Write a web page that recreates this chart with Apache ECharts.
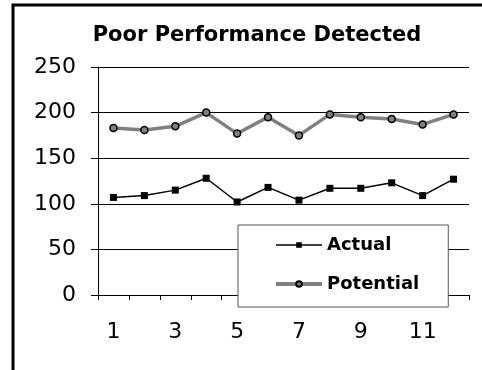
<!DOCTYPE html>
<html><head><meta charset="utf-8">
<script src="https://cdn.jsdelivr.net/npm/echarts@6/dist/echarts.min.js"></script>
<style>html,body{margin:0;padding:0;background:#fff}#c{width:482px;height:370px}</style>
</head><body><div id="c"></div>
<script>
const categories = ['1','2','3','4','5','6','7','8','9','10','11','12'];
const actual = [107, 109, 115, 128, 102, 118, 104, 117, 117, 123, 109, 127];
const potential = [183, 181, 185, 200, 177, 195, 175, 198, 195, 193, 187, 198];
const yTicks = {min: 0, max: 250, interval: 50};
const FONT = 'DejaVu Sans';

const chart = echarts.init(document.getElementById('c'), null, {renderer: 'canvas'});
chart.setOption({
  animation: false,
  backgroundColor: '#fff',
  graphic: [{
    type: 'rect', shape: {x: 13, y: 5, width: 520, height: 420},
    style: {fill: 'none', stroke: '#000', lineWidth: 3}, z: 100, silent: true
  }],
  title: {
    text: 'Poor Performance Detected', left: 252, top: 20, textAlign: 'center',
    textStyle: {fontFamily: FONT, fontWeight: 'bold', fontSize: 21, color: '#000'}
  },
  grid: {left: 98, right: 13, top: 67, bottom: 75, containLabel: false},
  legend: {
    orient: 'vertical', left: 238, top: 225,
    padding: [11, 29, 14, 36], itemGap: 21,
    itemWidth: 46, itemHeight: 7,
    backgroundColor: '#fff', borderColor: '#555', borderWidth: 1, borderRadius: 0,
    textStyle: {fontFamily: FONT, fontWeight: 'bold', fontSize: 18, color: '#000'},
    data: [
      {name: 'Actual', lineStyle: {width: 1.5}},
      {name: 'Potential', lineStyle: {width: 4}}
    ]
  },
  xAxis: {
    type: 'category', data: categories, boundaryGap: true,
    axisLine: {lineStyle: {color: '#000', width: 1}},
    axisTick: {show: true, interval: 0, length: 5, lineStyle: {color: '#000'}},
    axisLabel: {interval: 1, margin: 26, fontFamily: FONT, fontSize: 22, color: '#000'}
  },
  yAxis: {
    type: 'value', min: yTicks.min, max: yTicks.max, interval: yTicks.interval,
    axisLine: {show: true, lineStyle: {color: '#000', width: 1}},
    axisTick: {show: true, length: 7, lineStyle: {color: '#000'}},
    splitLine: {show: true, lineStyle: {color: '#000', width: 1}},
    axisLabel: {margin: 22, fontFamily: FONT, fontSize: 22, color: '#000'}
  },
  series: [
    {
      name: 'Actual', type: 'line', data: actual,
      symbol: 'rect', symbolSize: 7, showAllSymbol: true,
      lineStyle: {color: '#000', width: 1.5},
      itemStyle: {color: '#000', borderColor: '#000', borderWidth: 0}
    },
    {
      name: 'Potential', type: 'line', data: potential,
      symbol: 'circle', symbolSize: 7, showAllSymbol: true,
      lineStyle: {color: '#808080', width: 3.5},
      itemStyle: {color: '#808080', borderColor: '#000', borderWidth: 1.5}
    }
  ]
});
</script></body></html>
